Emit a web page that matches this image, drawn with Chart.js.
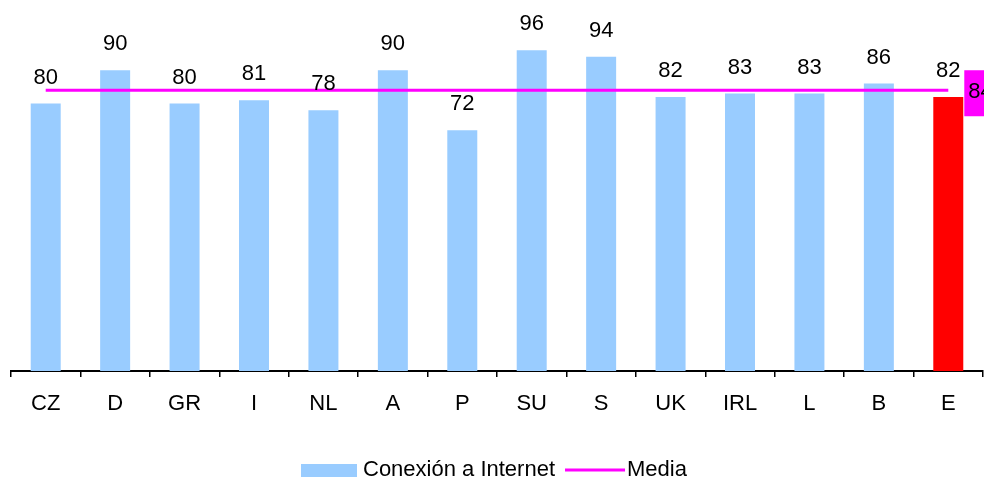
<!DOCTYPE html>
<html>
<head>
<meta charset="utf-8">
<script src="https://cdn.jsdelivr.net/npm/chart.js@4/dist/chart.umd.min.js"></script>
<style>
  html, body { margin: 0; padding: 0; background: #fff; }
  #wrap { width: 984px; height: 477px; }
</style>
</head>
<body>
<div id="wrap"><canvas id="chart" width="984" height="477"></canvas></div>
<script>
// Datos
const countries = ['CZ', 'D', 'GR', 'I', 'NL', 'A', 'P', 'SU', 'S', 'UK', 'IRL', 'L', 'B', 'E'];
const conexion = [80, 90, 80, 81, 78, 90, 72, 96, 94, 82, 83, 83, 86, 82];
const media = [84, 84, 84, 84, 84, 84, 84, 84, 84, 84, 84, 84, 84, 84];
const mediaLabel = '84';

const FONT = '"Liberation Sans", Arial, sans-serif';
const BLUE = '#99CCFF';
const RED = '#FF0000';
const MAGENTA = '#FF00FF';

const barColors = countries.map((c, i) => i === countries.length - 1 ? RED : BLUE);

// etiquetas de valores + caja de la media + leyenda
const labelsPlugin = {
    id: 'labelsPlugin',
    afterDraw(chart) {
        const ctx = chart.ctx;
        ctx.save();
        ctx.font = '22px ' + FONT;
        ctx.fillStyle = '#000';
        ctx.textAlign = 'center';
        ctx.textBaseline = 'alphabetic';
        chart.getDatasetMeta(1).data.forEach((bar, i) => {
            ctx.fillText(String(conexion[i]), bar.x, bar.y - 20);
        });

        // caja de la media en el ultimo punto
        const pts = chart.getDatasetMeta(0).data;
        const last = pts[pts.length - 1];
        ctx.fillStyle = MAGENTA;
        ctx.fillRect(last.x + 16, last.y - 20, 50, 46);
        ctx.fillStyle = '#000';
        ctx.textAlign = 'left';
        ctx.fillText(mediaLabel, last.x + 20, last.y + 8);

        // leyenda
        const ly = 476;
        ctx.fillStyle = BLUE;
        ctx.fillRect(301, 464, 56, 20);
        ctx.fillStyle = '#000';
        ctx.fillText('Conexión a Internet', 363, ly);
        const w = ctx.measureText('Conexión a Internet').width;
        const lx = 363 + w + 10;
        ctx.strokeStyle = MAGENTA;
        ctx.lineWidth = 3;
        ctx.beginPath();
        ctx.moveTo(lx, 470);
        ctx.lineTo(lx + 60, 470);
        ctx.stroke();
        ctx.fillText('Media', lx + 62, ly);
        ctx.restore();
    }
};

new Chart(document.getElementById('chart'), {
    data: {
        labels: countries,
        datasets: [
            {
                type: 'line',
                label: 'Media',
                data: media,
                borderColor: MAGENTA,
                borderWidth: 3,
                pointRadius: 0,
                fill: false,
                order: 0
            },
            {
                type: 'bar',
                label: 'Conexión a Internet',
                data: conexion,
                backgroundColor: barColors,
                categoryPercentage: 1,
                barPercentage: 0.432,
                order: 1
            }
        ]
    },
    options: {
        responsive: false,
        animation: false,
        layout: { padding: { left: 11, right: 1, top: 0, bottom: 0 } },
        plugins: {
            legend: { display: false },
            tooltip: { enabled: false }
        },
        scales: {
            x: {
                offset: true,
                grid: {
                    offset: true,
                    drawOnChartArea: false,
                    tickLength: 6,
                    color: '#000',
                    lineWidth: 1.5
                },
                border: { color: '#000', width: 2 },
                ticks: {
                    color: '#000',
                    font: { family: FONT, size: 22 },
                    padding: 14,
                    maxRotation: 0,
                    autoSkip: false
                },
                afterFit(scale) { scale.height = 106; }
            },
            y: {
                display: false,
                min: 0,
                max: 111
            }
        }
    },
    plugins: [labelsPlugin]
});
</script>
</body>
</html>
